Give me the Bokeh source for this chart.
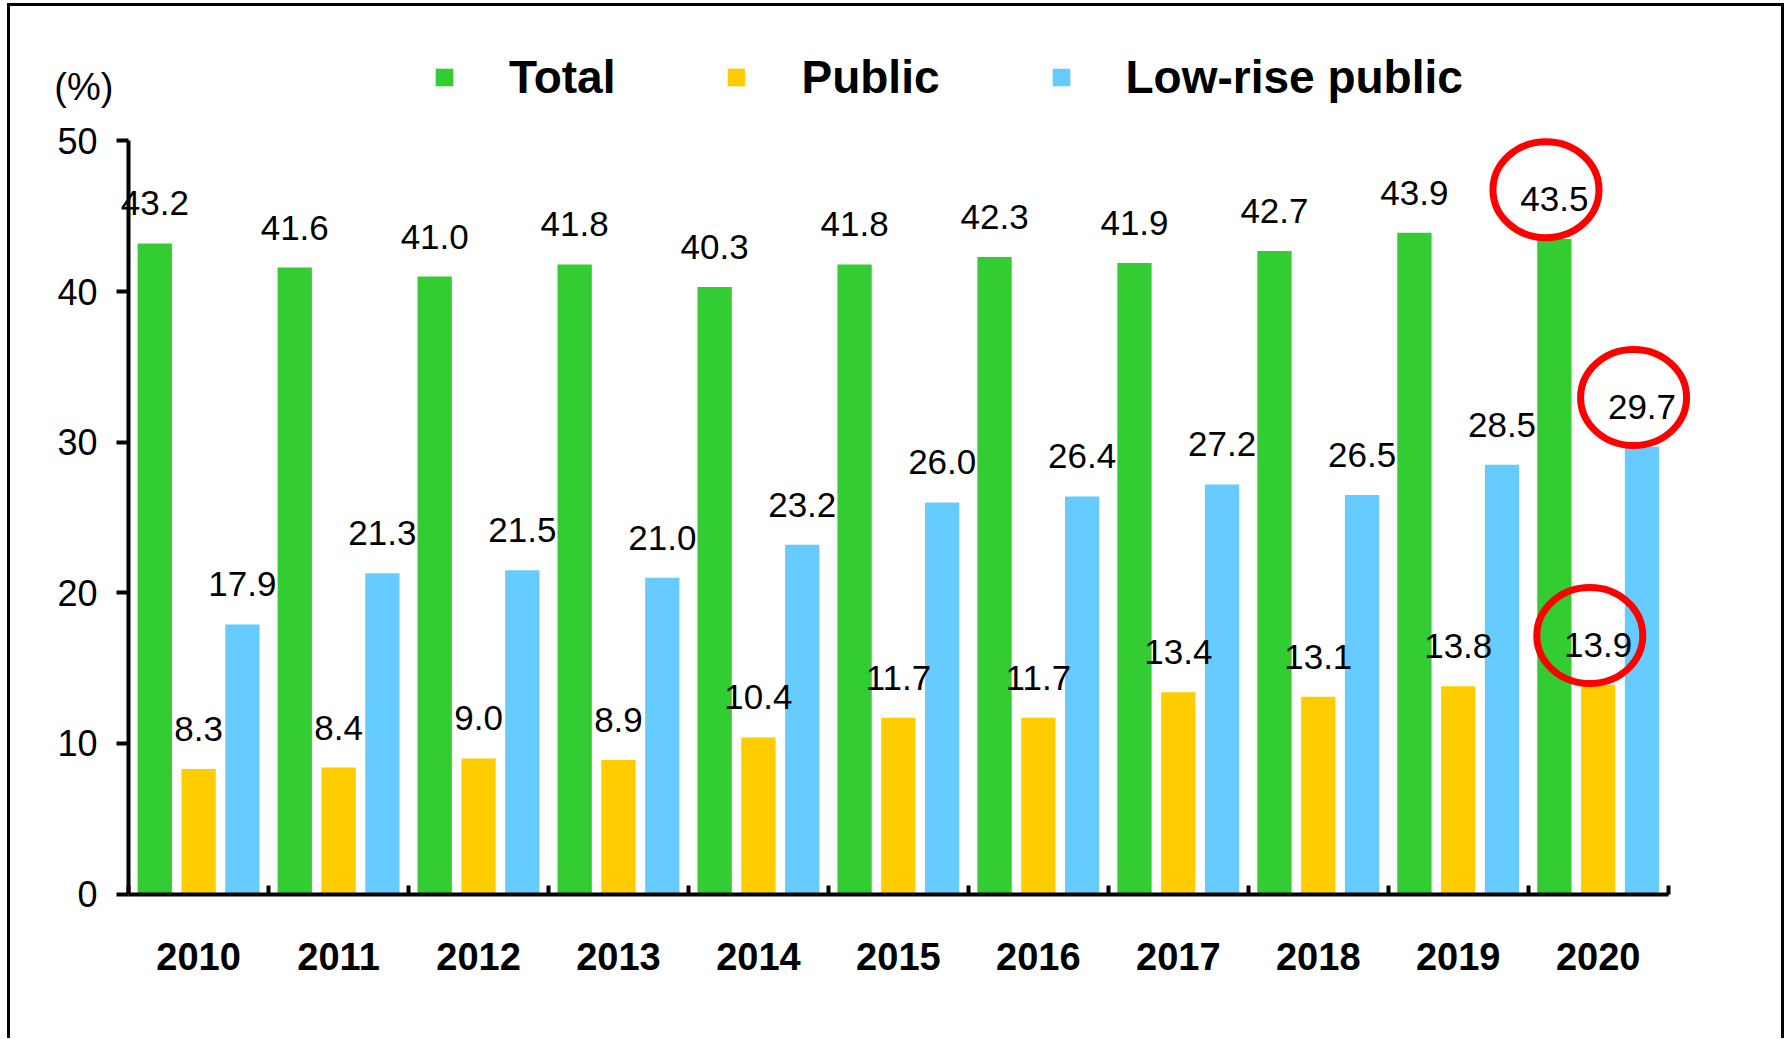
from bokeh.plotting import figure
from bokeh.models import (Range1d, LinearAxis, FixedTicker, SingleIntervalTicker,
                          Legend, LegendItem, Label, ColumnDataSource)
from bokeh.core.properties import value
from bokeh.embed import file_html
from bokeh.resources import INLINE

# ---- data ----
years = ["2010", "2011", "2012", "2013", "2014", "2015", "2016", "2017", "2018", "2019", "2020"]
total = [43.2, 41.6, 41.0, 41.8, 40.3, 41.8, 42.3, 41.9, 42.7, 43.9, 43.5]
public = [8.3, 8.4, 9.0, 8.9, 10.4, 11.7, 11.7, 13.4, 13.1, 13.8, 13.9]
lowrise = [17.9, 21.3, 21.5, 21.0, 23.2, 26.0, 26.4, 27.2, 26.5, 28.5, 29.7]
series_names = ["Total", "Public", "Low-rise public"]
highlight_year = "2020"
y_ticks_interval = 10
y_max_tick = 50
unit_label = "(%)"

# ---- style / geometry ----
colors = ["#33CC33", "#FFCC00", "#66CCFF"]
FONT = "Liberation Sans"
W, H = 1777, 1035
ML, MR, MT, MB = 0, 67, 14, 0
Y_START, Y_END = -9.79, 58.0
frame_h = H - 3 - MT - MB
ppu = frame_h / (Y_END - Y_START)
X_START, X_END = -0.844, len(years) + 0.374
dodges = [-0.313, 0.0, 0.313]
bar_w = 0.245

p = figure(width=W, height=H, output_backend="svg", toolbar_location=None,
           x_range=Range1d(X_START, X_END), y_range=Range1d(Y_START, Y_END),
           x_axis_type=None, y_axis_type=None,
           min_border_left=ML, min_border_right=MR, min_border_top=MT, min_border_bottom=MB)
p.styles = {"border-top": "3px solid black", "border-left": "3px solid black",
            "border-right": "3px solid black", "margin-left": "7px", "margin-top": "3px"}
p.outline_line_color = None
p.xgrid.visible = False
p.ygrid.visible = False
p.background_fill_color = "white"
p.border_fill_color = "white"

renderers = []
sources = []
all_series = [total, public, lowrise]
for vals, col, dg in zip(all_series, colors, dodges):
    xs = [i + 0.5 + dg for i in range(len(years))]
    src = ColumnDataSource(dict(x=xs, top=vals, lab=[f"{v:.1f}" for v in vals]))
    sources.append(src)
    r = p.vbar(x="x", top="top", width=bar_w, bottom=0, source=src,
               fill_color=col, line_color=None)
    renderers.append(r)

for src in sources:
    p.text(x="x", y="top", text="lab", source=src, text_align="center",
           text_baseline="alphabetic", y_offset=-40,
           text_font=value(FONT), text_font_size="35px", text_color="black")

# red ellipses around highlighted year's labels
hi = years.index(highlight_year)
ex = [hi + 0.5 + dg - 0.06 for dg in dodges]
ey = [s[hi] + 49 / ppu for s in all_series]
p.ellipse(x=ex, y=ey, width=106, height=96, width_units="screen", height_units="screen",
          fill_color=None, line_color="#FF0000", line_width=7)

# axes
yax = LinearAxis(ticker=SingleIntervalTicker(interval=y_ticks_interval), bounds=(0, y_max_tick),
                 fixed_location=0)
yax.axis_line_width = 4
yax.axis_line_color = "black"
yax.major_tick_in = 0
yax.major_tick_out = 12
yax.major_tick_line_width = 4
yax.minor_tick_line_color = None
yax.major_label_standoff = 19
yax.major_label_text_font = FONT
yax.major_label_text_font_size = "36px"
yax.major_label_text_color = "black"
p.add_layout(yax, "left")

centers = [i + 0.5 for i in range(len(years))]
bounds_ = [float(i) for i in range(len(years) + 1)]
xax = LinearAxis(ticker=FixedTicker(ticks=centers, minor_ticks=bounds_), bounds=(0, len(years)),
                 fixed_location=0)
xax.major_label_overrides = {c: y for c, y in zip(centers, years)}
xax.axis_line_width = 4
xax.axis_line_color = "black"
xax.major_tick_in = 0
xax.major_tick_out = 0
xax.major_tick_line_color = None
xax.minor_tick_in = 9
xax.minor_tick_out = 0
xax.minor_tick_line_width = 4
xax.minor_tick_line_color = "black"
xax.major_label_standoff = 49
xax.major_label_text_font = FONT
xax.major_label_text_font_size = "38px"
xax.major_label_text_font_style = "bold"
xax.major_label_text_color = "black"
p.add_layout(xax, "below")

p.add_layout(Label(x=-0.32, y=53.6, text=unit_label, text_align="center", text_baseline="middle",
                   text_font=FONT, text_font_size="38px", text_color="black"))

legend = Legend(items=[LegendItem(label=n, renderers=[r]) for n, r in zip(series_names, renderers)],
                orientation="horizontal", location=(423, 937),
                label_text_font=FONT, label_text_font_size="46px", label_text_font_style="bold",
                label_text_color="black",
                glyph_width=22, glyph_height=22, label_height=22, label_standoff=54, spacing=110,
                padding=0, margin=0, border_line_color=None, background_fill_alpha=0)
p.add_layout(legend)

open("out.html", "w").write(file_html(p, INLINE))
